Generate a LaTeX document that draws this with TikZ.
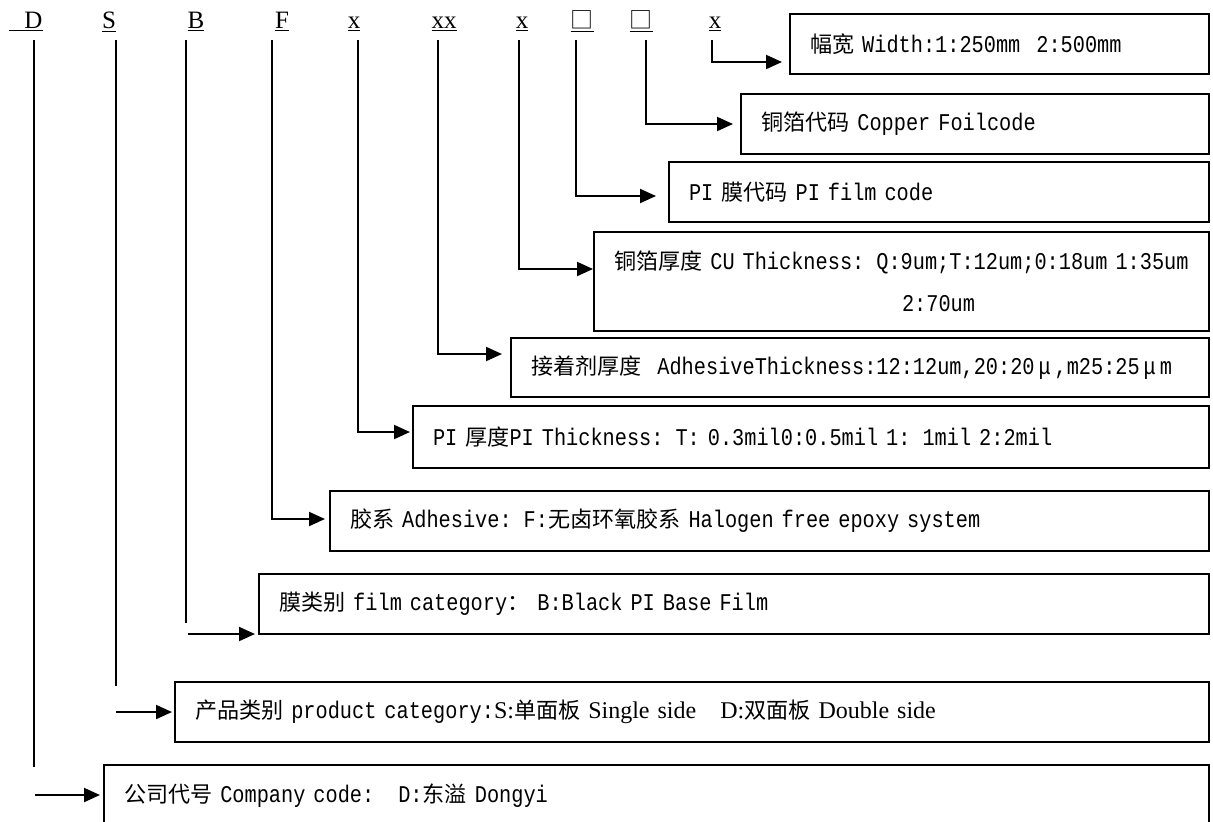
\documentclass[tikz,border=0pt]{standalone}
\usepackage{fontspec}
\setmainfont{Liberation Mono}[FakeStretch=0.845]
\newfontfamily\cjk{Noto Sans CJK SC}[Scale=0.92]
\newfontfamily\tms{Liberation Serif}
\usetikzlibrary{arrows.meta}
\tikzset{
  code/.style={font=\tms\fontsize{12.5}{15}\selectfont, inner sep=0pt, outer ysep=4pt, anchor=base},
  box/.style={draw, line width=1pt, anchor=north west, inner xsep=10pt, inner ysep=0pt, align=left, font=\fontsize{12}{14.4}\selectfont},
  link/.style={line width=1pt},
  arr/.style={link, -{Triangle[length=8pt,width=7pt]}},
}
\begin{document}
\begin{tikzpicture}[x=0.5pt,y=-0.5pt]
\useasboundingbox (0,0) rectangle (1213,821);
% product code letters
\foreach \n/\t/\x in {lD/{\hspace{7.5pt}D}/26, lS/S/109, lB/B/196, lF/F/282, lX1/x/354, lXX/xx/444, lX2/x/522, lSq1/{\cjk □}/582, lSq2/{\cjk □}/641, lX3/x/715}
  \node[code] (\n) at (\x,28) {\underline{\t}};
% boxes
\node[box, minimum width=209.5pt, minimum height=30pt, text width=189.5pt] (bWidth) at (789,13) {{\cjk 幅宽} Width:1:250mm~~2:500mm};
\node[box, minimum width=234pt, minimum height=30pt, text width=214pt] (bFoil) at (740,93) {{\cjk 铜箔代码} Copper Foilcode};
\node[box, minimum width=270pt, minimum height=30pt, text width=250pt] (bFilm) at (668,161) {PI {\cjk 膜代码} PI film code};
\node[box, minimum width=307.5pt, minimum height=49.5pt, text width=287.5pt] (bCu) at (593,231) {\mbox{{\cjk 铜箔厚度} CU Thickness: Q:9um;T:12um;0:18um 1:35um}\\[6.6pt]\hspace*{144pt}2:70um};
\node[box, minimum width=349pt, minimum height=29.5pt, text width=329pt] (bAdh) at (510,337) {\mbox{{\cjk 接着剂厚度}~~AdhesiveThickness:12:12um,20:20\makebox[10pt]{μ},m25:25\makebox[10pt]{μ}m}};
\node[box, minimum width=398pt, minimum height=31pt, text width=378pt] (bPI) at (412,405) {PI {\cjk 厚度}PI Thickness: T: 0.3mil0:0.5mil 1: 1mil 2:2mil};
\node[box, minimum width=439.5pt, minimum height=30pt, text width=419.5pt] (bGlue) at (329,490) {{\cjk 胶系} Adhesive: F:{\cjk 无卤环氧胶系} Halogen free epoxy system};
\node[box, minimum width=475pt, minimum height=30pt, text width=455pt] (bCat) at (258,573) {{\cjk 膜类别} film category{\cjk ：}~B:Black PI Base Film};
\node[box, minimum width=517pt, minimum height=30pt, text width=497pt] (bProd) at (174,681) {{\cjk 产品类别} product category:{\tms S:}{\cjk 单面板} {\tms Single side}~~~{\tms D:}{\cjk 双面板} {\tms Double side}};
\node[box, minimum width=552.5pt, minimum height=31pt, text width=532.5pt] (bComp) at (103,764) {{\cjk 公司代号} Company code:~~~D:{\cjk 东溢} Dongyi};
% connectors
\draw[arr, shorten >=3.5pt] (lX3.south -| 712,0) |- (bWidth.west |- 0,62);
\draw[arr, shorten >=3.5pt] (lSq2.south -| 646,0) |- (bFoil.west |- 0,124);
\draw[arr, shorten >=6pt] (lSq1.south -| 576,0) |- (bFilm.west |- 0,196);
\draw[arr] (lX2.south -| 519,0) |- (bCu.west |- 0,269);
\draw[arr, shorten >=4pt] (lXX.south -| 438,0) |- (bAdh.west |- 0,354);
\draw[arr, shorten >=1pt] (lX1.south -| 358,0) |- (bPI.west |- 0,432);
\draw[arr, shorten >=2pt] (lF.south -| 272,0) |- (bGlue.west |- 0,519);
% B, S, D lines stop short of their arrows
\coordinate (eB) at (186,623);
\coordinate (cB) at (188,634);
\draw[link] (lB.south -| eB) -- (eB);
\draw[arr, shorten >=1.5pt] (cB) -- (bCat.west |- cB);
\coordinate (eS) at (116,686);
\coordinate (cS) at (116,712);
\draw[link] (lS.south -| eS) -- (eS);
\draw[arr, shorten >=1pt] (cS) -- (bProd.west |- cS);
\coordinate (eD) at (34,767);
\coordinate (cD) at (35,795);
\draw[link] (lD.south -| eD) -- (eD);
\draw[arr, shorten >=1.5pt] (cD) -- (bComp.west |- cD);
\end{tikzpicture}
\end{document}
